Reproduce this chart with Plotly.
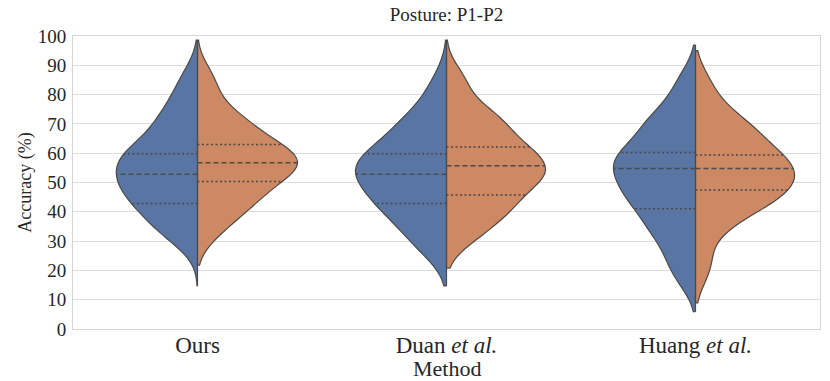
import numpy as np
import plotly.graph_objects as go

# ─── Data ───────────────────────────────────────────
METHODS = ["Ours", "Duan <i>et al.</i>", "Huang <i>et al.</i>"]

# accuracy samples (%) per method, first half (blue) and second half (orange)
OURS_A = [33.0, 33.0, 40.8, 42.8, 42.8, 50.1, 50.1, 50.1, 52.8, 59.3, 59.8, 59.8, 59.8, 69.8, 69.8, 76.6, 85.0]
OURS_B = [33.5, 39.5, 44.2, 44.2, 50.3, 50.3, 54.0, 56.7, 56.7, 57.5, 59.0, 63.0, 63.0, 69.3, 69.3, 75.4, 85.1]
DUAN_A = [29.8, 29.8, 39.3, 41.2, 42.8, 45.2, 49.4, 52.8, 52.8, 56.9, 57.2, 57.5, 59.8, 66.5, 70.7, 70.7, 82.6]
DUAN_B = [31.2, 36.2, 41.6, 41.6, 45.7, 51.0, 51.7, 51.7, 55.7, 55.7, 60.9, 62.1, 62.1, 70.2, 70.2, 74.8, 84.8]
HUANG_A = [18.3, 25.9, 33.8, 35.3, 41.0, 45.7, 47.4, 47.5, 54.8, 54.8, 57.8, 60.2, 60.2, 69.1, 69.1, 74.3, 84.1]
HUANG_B = [21.5, 34.7, 41.3, 41.3, 47.4, 47.4, 48.8, 50.2, 54.8, 55.2, 59.4, 59.4, 59.4, 68.9, 68.9, 70.6, 82.5]

Y_TICKS = list(range(0, 101, 10))

# ─── Style ──────────────────────────────────────────
BLUE = "#5875A4"
ORANGE = "#CD8963"
EDGE = "#4A4A4A"
TEXT = "#262626"
FONT = "Liberation Serif"

# kde settings per half: bandwidth, span (cut) and violin width
KDE = {
    ("Ours", "A"): dict(bw=6.44, span=[14.7, 98.6], width=0.651),
    ("Ours", "B"): dict(bw=5.95, span=[21.8, 98.6], width=0.803),
    ("Duan", "A"): dict(bw=7.15, span=[14.7, 98.6], width=0.731),
    ("Duan", "B"): dict(bw=5.80, span=[20.8, 98.6], width=0.795),
    ("Huang", "A"): dict(bw=6.41, span=[5.9, 96.9], width=0.659),
    ("Huang", "B"): dict(bw=6.70, span=[8.9, 95.0], width=0.795),
}


def _kde(vals, bw, t):
    u = (np.asarray(t)[:, None] - np.asarray(vals)[None, :]) / bw
    return np.exp(-0.5 * u * u).sum(1) / (len(vals) * bw * np.sqrt(2 * np.pi))


def _half_width(vals, cfg, q):
    # same sampling as plotly.js violin to get the max density
    lo, hi = cfg["span"]
    n = int(np.ceil((hi - lo) / (cfg["bw"] / 3)))
    ts = lo + np.arange(n + 1) * (hi - lo) / n
    kmax = _kde(vals, cfg["bw"], ts).max()
    return cfg["width"] / 2 * _kde(vals, cfg["bw"], [q])[0] / kmax


fig = go.Figure()

series = [
    ("Ours", 0, OURS_A, OURS_B),
    ("Duan", 1, DUAN_A, DUAN_B),
    ("Huang", 2, HUANG_A, HUANG_B),
]

for key, pos, vals_a, vals_b in series:
    for half, vals, side, color in (("A", vals_a, "negative", BLUE), ("B", vals_b, "positive", ORANGE)):
        cfg = KDE[(key, half)]
        fig.add_trace(
            go.Violin(
                y=vals,
                x0=pos,
                side=side,
                width=cfg["width"],
                bandwidth=cfg["bw"],
                spanmode="manual",
                span=cfg["span"],
                scalemode="width",
                points=False,
                fillcolor=color,
                opacity=1,
                line=dict(color=EDGE, width=1.2),
                box_visible=False,
                meanline_visible=False,
                hoverinfo="skip",
                showlegend=False,
            )
        )
        # plotly leaves the split side open -> close it with the centre edge
        fig.add_trace(
            go.Scatter(
                x=[pos, pos],
                y=cfg["span"],
                mode="lines",
                line=dict(color=EDGE, width=1.2),
                hoverinfo="skip",
                showlegend=False,
            )
        )
        # quartile lines (dotted) and median (dashed)
        q1, med, q3 = np.percentile(vals, [25, 50, 75])
        sign = -1 if side == "negative" else 1
        for q, dash in ((q1, "2px,2.5px"), (med, "5px,3px"), (q3, "2px,2.5px")):
            hw = _half_width(vals, cfg, q)
            fig.add_trace(
                go.Scatter(
                    x=[pos, pos + sign * hw],
                    y=[q, q],
                    mode="lines",
                    line=dict(color=EDGE, width=1.5, dash=dash),
                    hoverinfo="skip",
                    showlegend=False,
                )
            )

fig.update_layout(
    width=830,
    height=381,
    margin=dict(l=73, r=10, t=36, b=52),
    violinmode="overlay",
    plot_bgcolor="white",
    paper_bgcolor="white",
    font=dict(family=FONT, color=TEXT),
    title=dict(
        text="Posture: P1-P2",
        font=dict(size=19, family=FONT, color=TEXT),
        xref="paper",
        x=0.5,
        xanchor="center",
        yref="container",
        y=0.962,
        yanchor="middle",
    ),
    showlegend=False,
)

# x axis title placed right under the tick labels, as in the source figure
fig.add_annotation(
    text="Method",
    xref="paper",
    yref="paper",
    x=0.5,
    y=-0.135,
    xanchor="center",
    yanchor="middle",
    showarrow=False,
    font=dict(size=22, family=FONT, color=TEXT),
)

fig.update_xaxes(
    range=[-0.5, 2.5],
    tickvals=[0, 1, 2],
    ticktext=METHODS,
    tickfont=dict(size=23, family=FONT, color=TEXT),
    ticklabelstandoff=-5,
    showgrid=False,
    zeroline=False,
    showline=True,
    linecolor="#D5D5D5",
    linewidth=1,
    mirror=True,
    ticks="",
    automargin=False,
)
fig.update_yaxes(
    range=[0, 100],
    tickvals=Y_TICKS,
    tickfont=dict(size=19, family=FONT, color=TEXT),
    ticklabelstandoff=2,
    showgrid=True,
    gridcolor="#DCDCDC",
    gridwidth=1,
    zeroline=False,
    showline=True,
    linecolor="#D5D5D5",
    linewidth=1,
    mirror=True,
    ticks="",
    automargin=False,
    title=dict(text="Accuracy (%)", font=dict(size=18, family=FONT, color=TEXT), standoff=1),
)

# the page's default body margin would push the figure 8px off
fig.write_html(
    "out.html",
    config={"displayModeBar": False},
    post_script="document.body.style.margin = '0px';",
)
